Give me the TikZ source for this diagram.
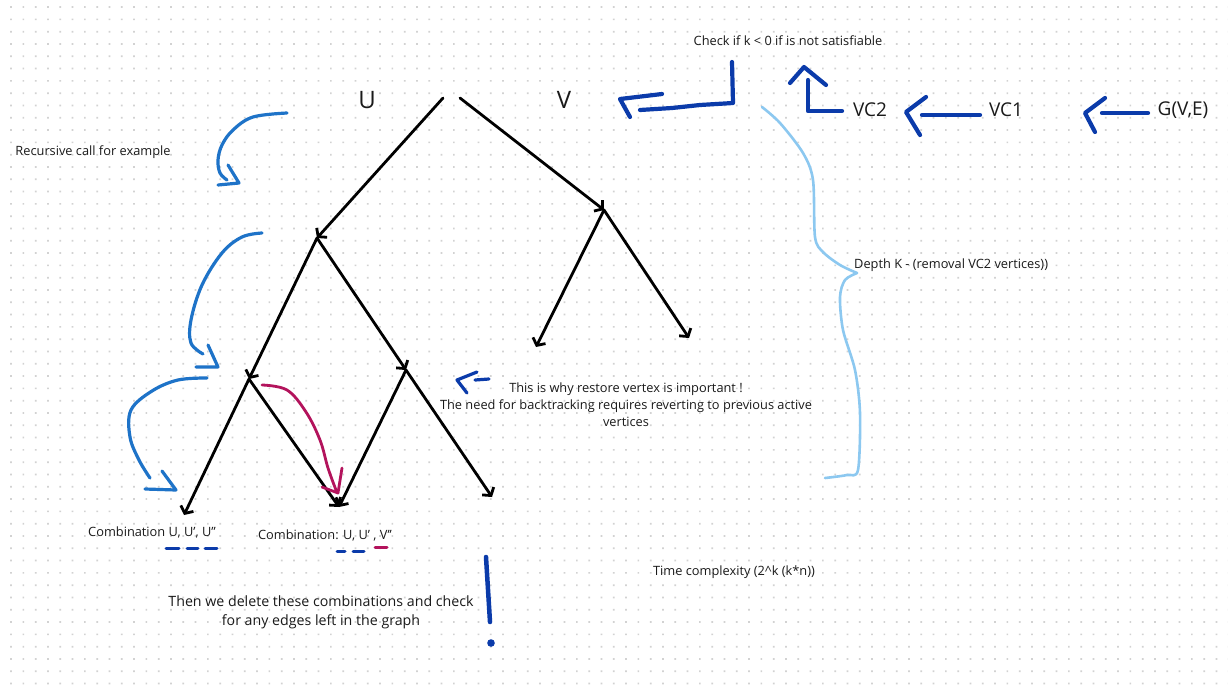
\documentclass[tikz,border=0pt]{standalone}
\usepackage{fontspec}
\setmainfont{Open Sans}
\usetikzlibrary{arrows.meta}
\definecolor{hblue}{HTML}{1E73C8}
\definecolor{dblue}{HTML}{0B3BAA}
\definecolor{lblue}{HTML}{8CC8F0}
\definecolor{mag}{HTML}{B3135C}
\definecolor{dotc}{HTML}{D2D2D2}
\definecolor{txt}{HTML}{1A1A1A}
\tikzset{
 treeedge/.style={draw=black, line width=2.8pt, line cap=round, -{Straight Barb[length=5.5pt,width=14pt,line width=2.8pt]}},
 hand/.style={draw=hblue, line width=3.2pt, line cap=round, line join=round},
 dark/.style={draw=dblue, line width=4.2pt, line cap=round, line join=round},
 bracestroke/.style={draw=lblue, line width=2.6pt, line cap=round, line join=round},
 magstroke/.style={draw=mag, line width=2.8pt, line cap=round, line join=round},
 smalltxt/.style={font=\fontsize{12.8}{17}\selectfont, text=txt, inner sep=0pt},
 midtxt/.style={font=\fontsize{12.8}{17}\selectfont, text=txt, inner sep=0pt, align=center},
 bigtxt/.style={font=\fontsize{14.2}{19}\selectfont, text=txt, inner sep=0pt, align=center},
 labtxt/.style={font=\fontsize{19}{22}\selectfont, text=txt, inner sep=0pt},
 uvtxt/.style={font=\fontsize{24}{26}\selectfont, text=txt, inner sep=0pt},
}
\begin{document}
\begin{tikzpicture}[x=1pt,y=-1pt]
\useasboundingbox (0,0) rectangle (1228,691);
\fill[white] (0,0) rectangle (1228,691);
% dot grid
\foreach \i in {0,...,99} {
  \fill[dotc] \foreach \j in {0,...,55} { ({10.2+12.3*\i},{6.2+12.3*\j}) rectangle ++(1.7,1.7) };
}

% tree coordinates
\coordinate (rootL) at (443,98);
\coordinate (rootR) at (460,98);
\coordinate (L1) at (317,238);
\coordinate (R1) at (604,210);
\coordinate (LL) at (249,379);
\coordinate (LR) at (406,370);
\coordinate (R1L) at (536,347);
\coordinate (R1R) at (689,338);
\coordinate (LLL) at (184,515);
\coordinate (LLR) at (339,507);
\coordinate (LRR) at (492,497);

\draw[treeedge] (rootL) -- (L1);
\draw[treeedge] (rootR) -- (R1);
\draw[treeedge] (L1) -- (LL);
\draw[treeedge] (L1) -- (LR);
\draw[treeedge] (R1) -- (R1L);
\draw[treeedge] (R1) -- (R1R);
\draw[treeedge] (LL) -- (LLL);
\draw[treeedge] (LL) -- (LLR);
\draw[treeedge] (LR) -- (LLR);
\draw[treeedge] (LR) -- (LRR);

% labels
\node[uvtxt] (U) at (367,100) {U};
\node[uvtxt] (V) at (564,100) {V};
\node[labtxt] (VC2) at (870,110) {VC2};
\node[labtxt] (VC1) at (1006,110) {VC1};
\node[labtxt] (G) at (1183,110) {G(V,E)};
\node[smalltxt] (check) at (788,41) {Check if k < 0 if is not satisfiable};
\node[smalltxt] (rec) at (93,152) {Recursive call for example};
\node[smalltxt, anchor=west] (depth) at (854,265) {Depth K - (removal VC2 vertices))};
\node[midtxt] (why) at (626,405) {This is why restore vertex is important !\\The need for backtracking requires reverting to previous active\\vertices};
\node[smalltxt] (comb1) at (152,532) {Combination U, U’, U’{}’};
\node[smalltxt] (comb2) at (325,535) {Combination: U, U’ , V’{}’};
\node[smalltxt] (time) at (734,572) {Time complexity (2\^{}k (k*n))};
\node[bigtxt] (then) at (321,612) {Then we delete these combinations and check\\for any edges left in the graph};

% hand-drawn blue recursion arrows
\draw[hand] plot[smooth, tension=0.6] coordinates {(287,113) (253,117) (233,130) (222,145) (218,160) (220,173) (227,180)};
\draw[hand] (228,165) -- (239,183) -- (218,185);
\draw[hand] plot[smooth, tension=0.6] coordinates {(262,233) (242,237) (222,253) (202,285) (191,320) (191,343) (203,354)};
\draw[hand] (208,345) -- (218,367) -- (196,367);
\draw[hand] plot[smooth, tension=0.6] coordinates {(207,378) (178,380) (152,391) (131,410) (130,437) (139,460) (150,478)};
\draw[hand] (162,471) -- (176,490) -- (145,489);

% magenta arrow
\draw[magstroke] plot[smooth, tension=0.6] coordinates {(262,385) (287,390) (306,412) (320,440) (328,468) (336,490)};
\draw[magstroke] (342,468) -- (338,493) -- (322,487);

% dark blue strokes top right
\draw[dark] (732,62) -- (733,103) -- (700,105) -- (672,108) -- (640,110);
\draw[dark] (662,94) -- (620,99) -- (630,117);
\draw[dark] (842,111) -- (808,111) -- (808,80);
\draw[dark] (790,83) -- (804,67) -- (826,85);
\draw[dark] (980,115) -- (922,115);
\draw[dark] (926,97) -- (906,112) -- (920,135);
\draw[dark] (1148,113) -- (1102,113);
\draw[dark] (1105,98) -- (1085,113) -- (1095,132);
% small back arrow
\draw[dark, line width=3.2pt] (477,372) -- (457,380) -- (467,393);
\draw[dark, line width=3.2pt] (475,380) -- (489,379);
% underline dashes
\draw[dark, line width=3pt] (166,548) -- (179,548);
\draw[dark, line width=3pt] (187,548) -- (198,548);
\draw[dark, line width=3pt] (205,548) -- (217,548);
\draw[dark, line width=3pt] (337,551) -- (345,551);
\draw[dark, line width=3pt] (353,551) -- (364,551);
\draw[magstroke, line width=3pt] (375,547) -- (387,547);
% exclamation mark
\draw[dark, line width=4.5pt] (486,557) -- (490,622);
\fill[dblue] (491,643) circle[radius=3.8pt];

% light blue brace
\draw[bracestroke] plot[smooth, tension=0.5] coordinates {(762,107) (780,123) (803,153) (813,180) (815,237) (823,252) (840,265) (857,273)};
\draw[bracestroke] plot[smooth, tension=0.5] coordinates {(857,273) (845,280) (840,297) (843,330) (855,370) (860,413) (858,470) (847,475) (825,478)};
\end{tikzpicture}
\end{document}
